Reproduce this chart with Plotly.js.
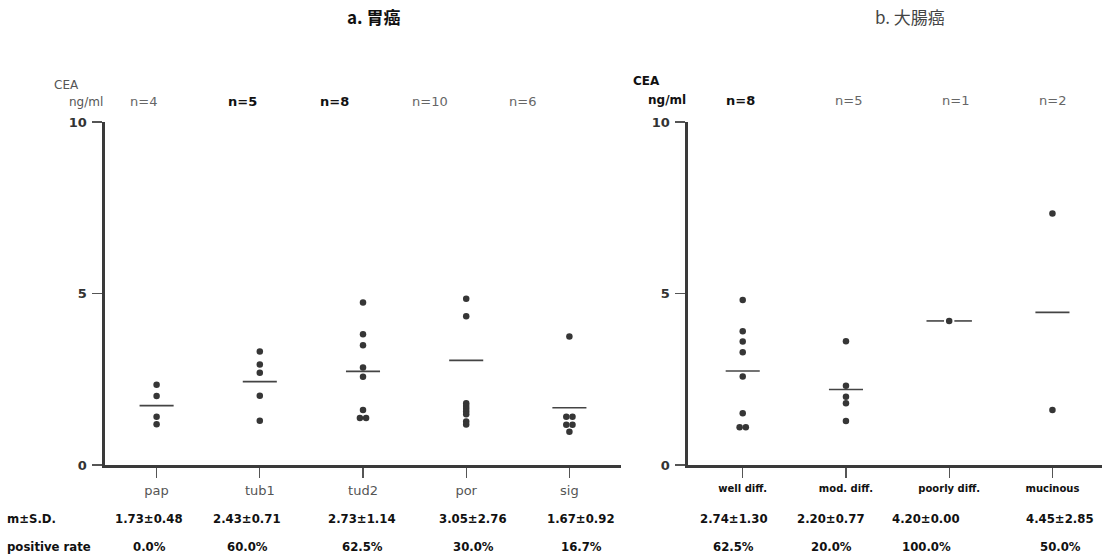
<!DOCTYPE html>
<html>
<head>
<meta charset="utf-8">
<script src="https://cdn.plot.ly/plotly-3.0.1.min.js"></script>
<style>html,body{margin:0;padding:0;background:#fff;}#chart{width:1113px;height:559px;}</style>
</head>
<body>
<div id="chart"></div>
<script>
// ---- Data: a. 胃癌 (gastric cancer) ----
const gastricCats = ['pap', 'tub1', 'tud2', 'por', 'sig'];
const gastricN = [4, 5, 8, 10, 6];
const papVals = [2.34, 2.01, 1.41, 1.19];
const tub1Vals = [3.31, 2.93, 2.69, 2.02, 1.29];
const tud2Vals = [4.74, 3.81, 3.49, 2.84, 2.57, 1.60, 1.37, 1.37];
const porVals = [10.32, 4.85, 4.34, 1.80, 1.72, 1.64, 1.56, 1.48, 1.27, 1.18];
const sigVals = [3.75, 1.41, 1.41, 1.17, 1.17, 0.97];
const gastricMeans = [1.73, 2.43, 2.73, 3.05, 1.67];
const gastricSD = [0.48, 0.71, 1.14, 2.76, 0.92];
const gastricPosRate = ['0.0%', '60.0%', '62.5%', '30.0%', '16.7%'];
const gastricBoldN = [false, true, true, false, false];

// ---- Data: b. 大腸癌 (colorectal cancer) ----
const colonCats = ['well diff.', 'mod. diff.', 'poorly diff.', 'mucinous'];
const colonN = [8, 5, 1, 2];
const wellVals = [4.81, 3.90, 3.60, 3.29, 2.58, 1.51, 1.10, 1.10];
const modVals = [3.61, 2.31, 1.99, 1.80, 1.28];
const poorlyVals = [4.20];
const mucinousVals = [7.33, 1.60];
const colonMeans = [2.74, 2.20, 4.20, 4.45];
const colonSD = [1.30, 0.77, 0.00, 2.85];
const colonPosRate = ['62.5%', '20.0%', '100.0%', '50.0%'];
const colonBoldN = [true, false, false, false];

const gastricVals = [papVals, tub1Vals, tud2Vals, porVals, sigVals];
const colonVals = [wellVals, modVals, poorlyVals, mucinousVals];

const W = 1113, H = 559;
const px = v => v / W;
const py = v => 1 - v / H;
const dotColor = '#363636';
const axisColor = '#3a3a3a';

// spread identical values side by side
function spreadX(idx, vals) {
  const xs = [];
  const groups = {};
  vals.forEach(v => { const k = v.toFixed(2); groups[k] = (groups[k] || 0) + 1; });
  const seen = {};
  vals.forEach(v => {
    const k = v.toFixed(2);
    const cnt = groups[k];
    const j = seen[k] || 0;
    seen[k] = j + 1;
    xs.push(idx + (j - (cnt - 1) / 2) * 0.06);
  });
  return xs;
}

const traces = [];
function addPanel(valsList, means, ns, xa, ya) {
  valsList.forEach((vals, i) => {
    const m = means[i];
    let lx, ly;
    if (ns[i] === 1) {
      lx = [i - 0.22, i - 0.05, null, i + 0.05, i + 0.22];
      ly = [m, m, null, m, m];
    } else {
      lx = [i - 0.165, i + 0.165];
      ly = [m, m];
    }
    traces.push({
      type: 'scatter', mode: 'lines', x: lx, y: ly, xaxis: xa, yaxis: ya,
      line: {color: '#444', width: 1.6}, hoverinfo: 'skip', cliponaxis: false
    });
    traces.push({
      type: 'scatter', mode: 'markers', x: spreadX(i, vals), y: vals, xaxis: xa, yaxis: ya,
      marker: {color: dotColor, size: 6.5}, cliponaxis: false
    });
  });
}
addPanel(gastricVals, gastricMeans, gastricN, 'x', 'y');
addPanel(colonVals, colonMeans, colonN, 'x2', 'y2');

const yDomain = [94 / H, 437 / H];
const baseX = {
  showline: true, linecolor: axisColor, linewidth: 2.6, mirror: false,
  ticks: 'outside', ticklen: 10, tickwidth: 1.4, tickcolor: '#555',
  showgrid: false, zeroline: false, fixedrange: true, ticklabelstandoff: 2
};
const baseY = {
  showline: true, linecolor: axisColor, linewidth: 2.6,
  ticks: 'outside', ticklen: 10, tickwidth: 1.4, tickcolor: '#555',
  showgrid: false, zeroline: false, range: [0, 10], tickvals: [0, 5, 10],
  ticktext: ['0', '5', '10'], domain: yDomain, fixedrange: true,
  tickfont: {family: 'DejaVu Sans', size: 13, color: '#333', weight: 600}, ticklabelstandoff: 3
};

const annotations = [];
function ann(text, x, y, opts) {
  annotations.push(Object.assign({
    text: text, x: px(x), y: py(y), xref: 'paper', yref: 'paper',
    showarrow: false, xanchor: 'center', yanchor: 'middle',
    font: {family: 'DejaVu Sans', size: 13, color: '#444'}
  }, opts || {}));
}

// titles
ann('<b>a. 胃癌</b>', 374, 17, {font: {family: 'Noto Sans CJK JP', size: 17, color: '#111'}});
ann('b. 大腸癌', 910, 17, {font: {family: 'Noto Sans CJK JP', size: 17, color: '#444'}});

// axis units
ann('CEA', 66, 85, {font: {family: 'DejaVu Sans', size: 12, color: '#555'}});
ann('ng/ml', 86, 102, {font: {family: 'DejaVu Sans', size: 12, color: '#555'}});
ann('<b>CEA</b>', 646, 81, {font: {family: 'DejaVu Sans', size: 12, color: '#111'}});
ann('<b>ng/ml</b>', 667, 100, {font: {family: 'DejaVu Sans', size: 12, color: '#111'}});

// n labels
const gastricNX = [143, 242, 334, 430, 522];
const colonNX = [740, 848, 955, 1052];
gastricN.forEach((n, i) => {
  const t = 'n=' + n;
  ann(gastricBoldN[i] ? '<b>' + t + '</b>' : t, gastricNX[i], 102,
      {font: {family: 'DejaVu Sans', size: 13, color: gastricBoldN[i] ? '#111' : '#666'}});
});
colonN.forEach((n, i) => {
  const t = 'n=' + n;
  ann(colonBoldN[i] ? '<b>' + t + '</b>' : t, colonNX[i], 100,
      {font: {family: 'DejaVu Sans', size: 13, color: colonBoldN[i] ? '#111' : '#666'}});
});

// bottom rows
const rowFont = {family: 'DejaVu Sans Condensed, Liberation Sans Narrow, sans-serif', size: 13, color: '#111'};
ann('<b>m±S.D.</b>', 5, 518, {xanchor: 'left', font: rowFont});
ann('<b>positive rate</b>', 5, 546, {xanchor: 'left', font: rowFont});
const gastricRowX = [149, 247, 362, 473, 581];
const colonRowX = [734, 831, 926, 1060];
gastricMeans.forEach((m, i) => {
  ann('<b>' + m.toFixed(2) + '±' + gastricSD[i].toFixed(2) + '</b>', gastricRowX[i], 518, {font: rowFont});
  ann('<b>' + gastricPosRate[i] + '</b>', gastricRowX[i], 546, {font: rowFont});
});
colonMeans.forEach((m, i) => {
  ann('<b>' + m.toFixed(2) + '±' + colonSD[i].toFixed(2) + '</b>', colonRowX[i], 518, {font: rowFont});
  ann('<b>' + colonPosRate[i] + '</b>', colonRowX[i], 546, {font: rowFont});
});

const layout = {
  width: W, height: H,
  margin: {l: 0, r: 0, t: 0, b: 0},
  paper_bgcolor: '#fff', plot_bgcolor: '#fff',
  showlegend: false, hovermode: false,
  xaxis: Object.assign({}, baseX, {
    domain: [105 / W, 621 / W], anchor: 'y', range: [-0.5, 4.5],
    tickvals: gastricCats.map((c, i) => i), ticktext: gastricCats,
    tickfont: {family: 'DejaVu Sans', size: 13, color: '#555'}
  }),
  yaxis: Object.assign({}, baseY, {anchor: 'x'}),
  xaxis2: Object.assign({}, baseX, {
    domain: [688 / W, 1102 / W], anchor: 'y2', range: [-0.53, 3.48],
    tickvals: colonCats.map((c, i) => i), ticktext: colonCats.map(c => '<b>' + c + '</b>'),
    tickfont: {family: 'DejaVu Sans', size: 10, color: '#111'}
  }),
  yaxis2: Object.assign({}, baseY, {anchor: 'x2'}),
  annotations: annotations
};

Plotly.newPlot('chart', traces, layout, {staticPlot: true, displayModeBar: false});
</script>
</body>
</html>
